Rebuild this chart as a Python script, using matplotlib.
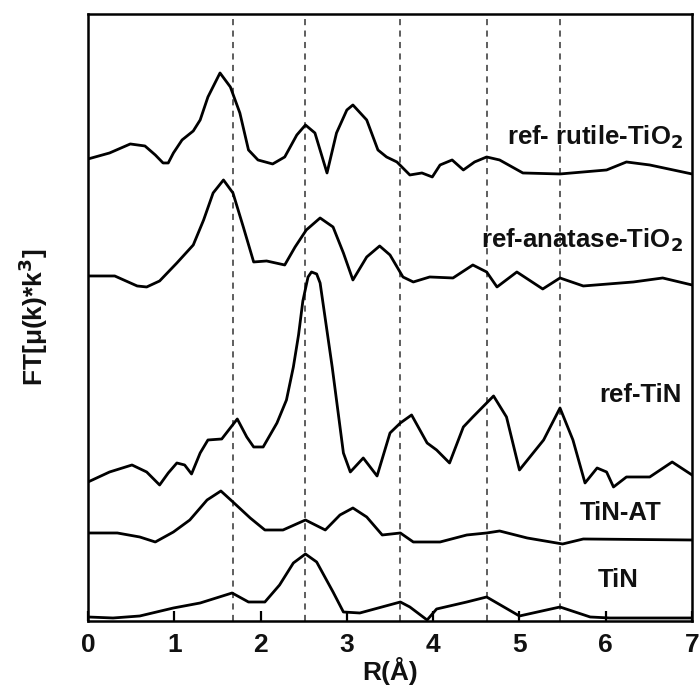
import numpy as np
import matplotlib
matplotlib.use("Agg")
import matplotlib.pyplot as plt

plt.rcParams['font.family'] = ['Liberation Sans', 'DejaVu Sans']
plt.rcParams['font.weight'] = 'bold'
plt.rcParams['axes.labelweight'] = 'bold'
plt.rcParams['mathtext.default'] = 'bf'

# R (Angstrom) and stacked FT magnitudes (arbitrary units, offset curves)
r_rutile = [0, 0.25, 0.49, 0.66, 0.78, 0.87, 0.93, 0.99, 1.09, 1.22, 1.30, 1.39, 1.53, 1.65,
            1.76, 1.86, 1.97, 2.14, 2.28, 2.42, 2.52, 2.63, 2.77, 2.88, 3.00, 3.07, 3.23,
            3.36, 3.46, 3.58, 3.73, 3.87, 3.99, 4.08, 4.22, 4.35, 4.48, 4.62, 4.77, 5.04,
            5.47, 6.01, 6.24, 6.51, 7.0]
ft_rutile = [4.62, 4.68, 4.77, 4.75, 4.66, 4.58, 4.58, 4.68, 4.81, 4.90, 5.01, 5.24, 5.48, 5.34,
             5.08, 4.71, 4.61, 4.57, 4.64, 4.86, 4.96, 4.88, 4.48, 4.88, 5.11, 5.16, 5.01,
             4.71, 4.64, 4.59, 4.46, 4.48, 4.44, 4.56, 4.61, 4.51, 4.59, 4.64, 4.61, 4.48,
             4.47, 4.51, 4.59, 4.56, 4.47]

r_anatase = [0, 0.31, 0.57, 0.68, 0.83, 1.03, 1.22, 1.34, 1.45, 1.57, 1.68, 1.80, 1.92, 2.07,
             2.28, 2.40, 2.53, 2.69, 2.84, 2.96, 3.07, 3.23, 3.38, 3.50, 3.65, 3.77, 3.96,
             4.23, 4.46, 4.62, 4.74, 4.97, 5.27, 5.47, 5.74, 6.32, 6.66, 7.0]
ft_anatase = [3.45, 3.45, 3.35, 3.34, 3.40, 3.58, 3.76, 4.01, 4.28, 4.41, 4.28, 3.94, 3.59, 3.60,
              3.56, 3.74, 3.91, 4.03, 3.94, 3.68, 3.41, 3.64, 3.75, 3.66, 3.44, 3.39, 3.44,
              3.43, 3.56, 3.49, 3.34, 3.49, 3.32, 3.43, 3.35, 3.39, 3.43, 3.36]

r_ref_tin = [0, 0.25, 0.51, 0.68, 0.83, 0.93, 1.03, 1.12, 1.20, 1.30, 1.39, 1.55, 1.73, 1.84,
             1.92, 2.03, 2.19, 2.30, 2.38, 2.44, 2.49, 2.55, 2.59, 2.65, 2.69, 2.83, 2.96,
             3.04, 3.19, 3.35, 3.50, 3.62, 3.75, 3.93, 4.04, 4.19, 4.35, 4.46, 4.62, 4.70,
             4.85, 5.00, 5.28, 5.47, 5.62, 5.76, 5.90, 6.01, 6.09, 6.24, 6.51, 6.77, 7.0]
ft_ref_tin = [1.39, 1.49, 1.56, 1.49, 1.36, 1.48, 1.58, 1.56, 1.47, 1.68, 1.81, 1.82, 2.02, 1.84,
              1.74, 1.74, 1.98, 2.21, 2.54, 2.86, 3.20, 3.44, 3.49, 3.47, 3.38, 2.54, 1.68,
              1.49, 1.63, 1.45, 1.88, 1.98, 2.06, 1.78, 1.71, 1.58, 1.94, 2.04, 2.18, 2.25,
              2.04, 1.51, 1.81, 2.13, 1.81, 1.38, 1.53, 1.49, 1.34, 1.44, 1.44, 1.59, 1.46]

r_tin_at = [0, 0.34, 0.60, 0.78, 0.99, 1.18, 1.38, 1.54, 1.68, 1.88, 2.05, 2.26, 2.52, 2.75,
            2.92, 3.07, 3.23, 3.41, 3.62, 3.77, 4.08, 4.39, 4.62, 4.77, 5.09, 5.50, 5.74, 7.0]
ft_tin_at = [0.88, 0.88, 0.84, 0.79, 0.89, 1.01, 1.21, 1.30, 1.19, 1.03, 0.91, 0.91, 1.01, 0.91,
             1.06, 1.13, 1.04, 0.86, 0.88, 0.79, 0.79, 0.86, 0.88, 0.90, 0.83, 0.77, 0.82, 0.81]

r_tin = [0, 0.29, 0.60, 0.99, 1.30, 1.67, 1.86, 2.05, 2.22, 2.38, 2.52, 2.65, 2.84, 2.96,
         3.15, 3.62, 3.73, 3.93, 4.04, 4.39, 4.62, 5.00, 5.47, 5.82, 6.05, 7.0]
ft_tin = [0.04, 0.03, 0.05, 0.13, 0.18, 0.28, 0.19, 0.19, 0.36, 0.58, 0.67, 0.59, 0.29, 0.09,
          0.08, 0.19, 0.14, 0.01, 0.12, 0.19, 0.24, 0.05, 0.14, 0.04, 0.03, 0.03]

# dashed reference positions
r_marks = [1.68, 2.52, 3.62, 4.62, 5.47]

labels = ["ref- rutile-TiO$_2$", "ref-anatase-TiO$_2$", "ref-TiN", "TiN-AT", "TiN"]
label_y = [4.84, 3.81, 2.26, 1.08, 0.41]
label_x = [6.9, 6.9, 6.88, 6.65, 6.38]

fig = plt.figure(figsize=(7, 6.88), dpi=100)
ax = fig.add_axes([0.1257, 0.0974, 0.8629, 0.8823])

for rm in r_marks:
    ax.axvline(rm, color="#333333", linestyle=(0, (4, 3.5)), linewidth=1.1, zorder=1)

curves = [(r_rutile, ft_rutile), (r_anatase, ft_anatase), (r_ref_tin, ft_ref_tin),
          (r_tin_at, ft_tin_at), (r_tin, ft_tin)]
for r, ft in curves:
    ax.plot(r, ft, color="black", linewidth=2.0, zorder=3, solid_joinstyle="round")

for lab, lx, ly in zip(labels, label_x, label_y):
    ax.text(lx, ly, lab, ha="right", va="center", fontsize=18.5, color="#111111")

ax.set_xlim(0, 7)
ax.set_ylim(0, 6.07)
ax.set_xticks(range(8))
ax.set_yticks([])
ax.tick_params(axis="x", direction="in", length=7, width=1.6, labelsize=19, pad=9,
               labelcolor="#111111")
for sp in ax.spines.values():
    sp.set_linewidth(1.8)

ax.set_xlabel("R(Å)", fontsize=19, labelpad=0, color="#111111")
ax.set_ylabel("FT[μ(k)*k$^3$]", fontsize=19, labelpad=27, color="#111111")

fig.savefig("out.png", dpi=100)
